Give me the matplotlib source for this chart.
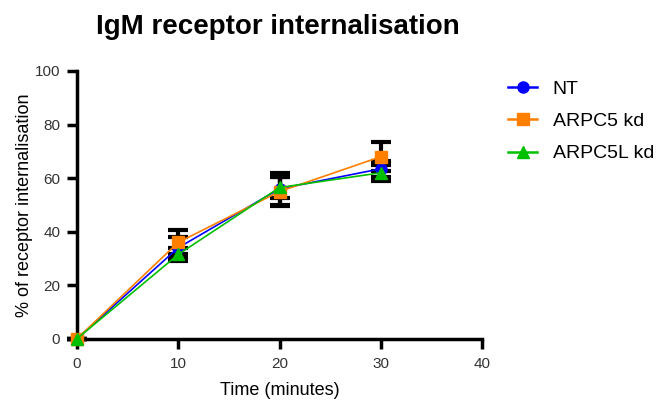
import matplotlib
matplotlib.use("Agg")
import matplotlib.pyplot as plt
from matplotlib.lines import Line2D

plt.rcParams['font.family'] = ['Liberation Sans', 'DejaVu Sans']

time = [0, 10, 20, 30]
nt = [0, 34, 56, 63.5]
nt_err = [0, 4, 6, 3]
arpc5 = [0, 36, 55, 68]
arpc5_err = [0, 4.5, 5.5, 5.5]
arpc5l = [0, 31.5, 56.5, 62]
arpc5l_err = [0, 2.5, 4, 3]

x_ticks = [0, 10, 20, 30, 40]
y_ticks = [0, 20, 40, 60, 80, 100]

fig = plt.figure(figsize=(6.57, 4.01), dpi=100)
ax = fig.add_axes([0.117, 0.155, 0.617, 0.668])

series = [
    ("NT", nt, nt_err, "#0000ff", "o", 8),
    ("ARPC5 kd", arpc5, arpc5_err, "#ff7f00", "s", 8),
    ("ARPC5L kd", arpc5l, arpc5l_err, "#00c000", "^", 9),
]
handles = []
for label, y, e, c, m, ms in series:
    ax.errorbar(time, y, yerr=e, color=c, ecolor="black", elinewidth=3,
                capsize=7.5, capthick=3, marker=m, markersize=ms,
                markeredgecolor=c, lw=1.2, zorder=3)
    handles.append(Line2D([], [], color=c, marker=m, markersize=ms,
                          markeredgecolor=c, lw=1.8, label=label))

ax.set_xlim(0, 40)
ax.set_ylim(0, 100)
ax.set_xticks(x_ticks)
ax.set_yticks(y_ticks)
for s in ("top", "right"):
    ax.spines[s].set_visible(False)
for s in ("left", "bottom"):
    ax.spines[s].set_linewidth(2.5)
ax.tick_params(width=2.5, length=7, labelsize=11, colors="black",
               labelcolor="#333333")
ax.tick_params(axis="x", pad=6)
ax.tick_params(axis="y", pad=5)
ax.set_xlabel("Time (minutes)", fontsize=13, labelpad=8)
ax.set_ylabel("% of receptor internalisation", fontsize=13, labelpad=1)
for art in ax.get_children():
    art.set_clip_on(False)

fig.suptitle("IgM receptor internalisation", fontsize=20, fontweight="bold",
             x=0.423, y=0.965)

fig.legend(handles=handles, loc="upper left", bbox_to_anchor=(0.7466, 0.843),
           frameon=False, fontsize=14, handlelength=1.5,
           labelspacing=0.75, handletextpad=0.8)

fig.savefig("out.png", dpi=100)
